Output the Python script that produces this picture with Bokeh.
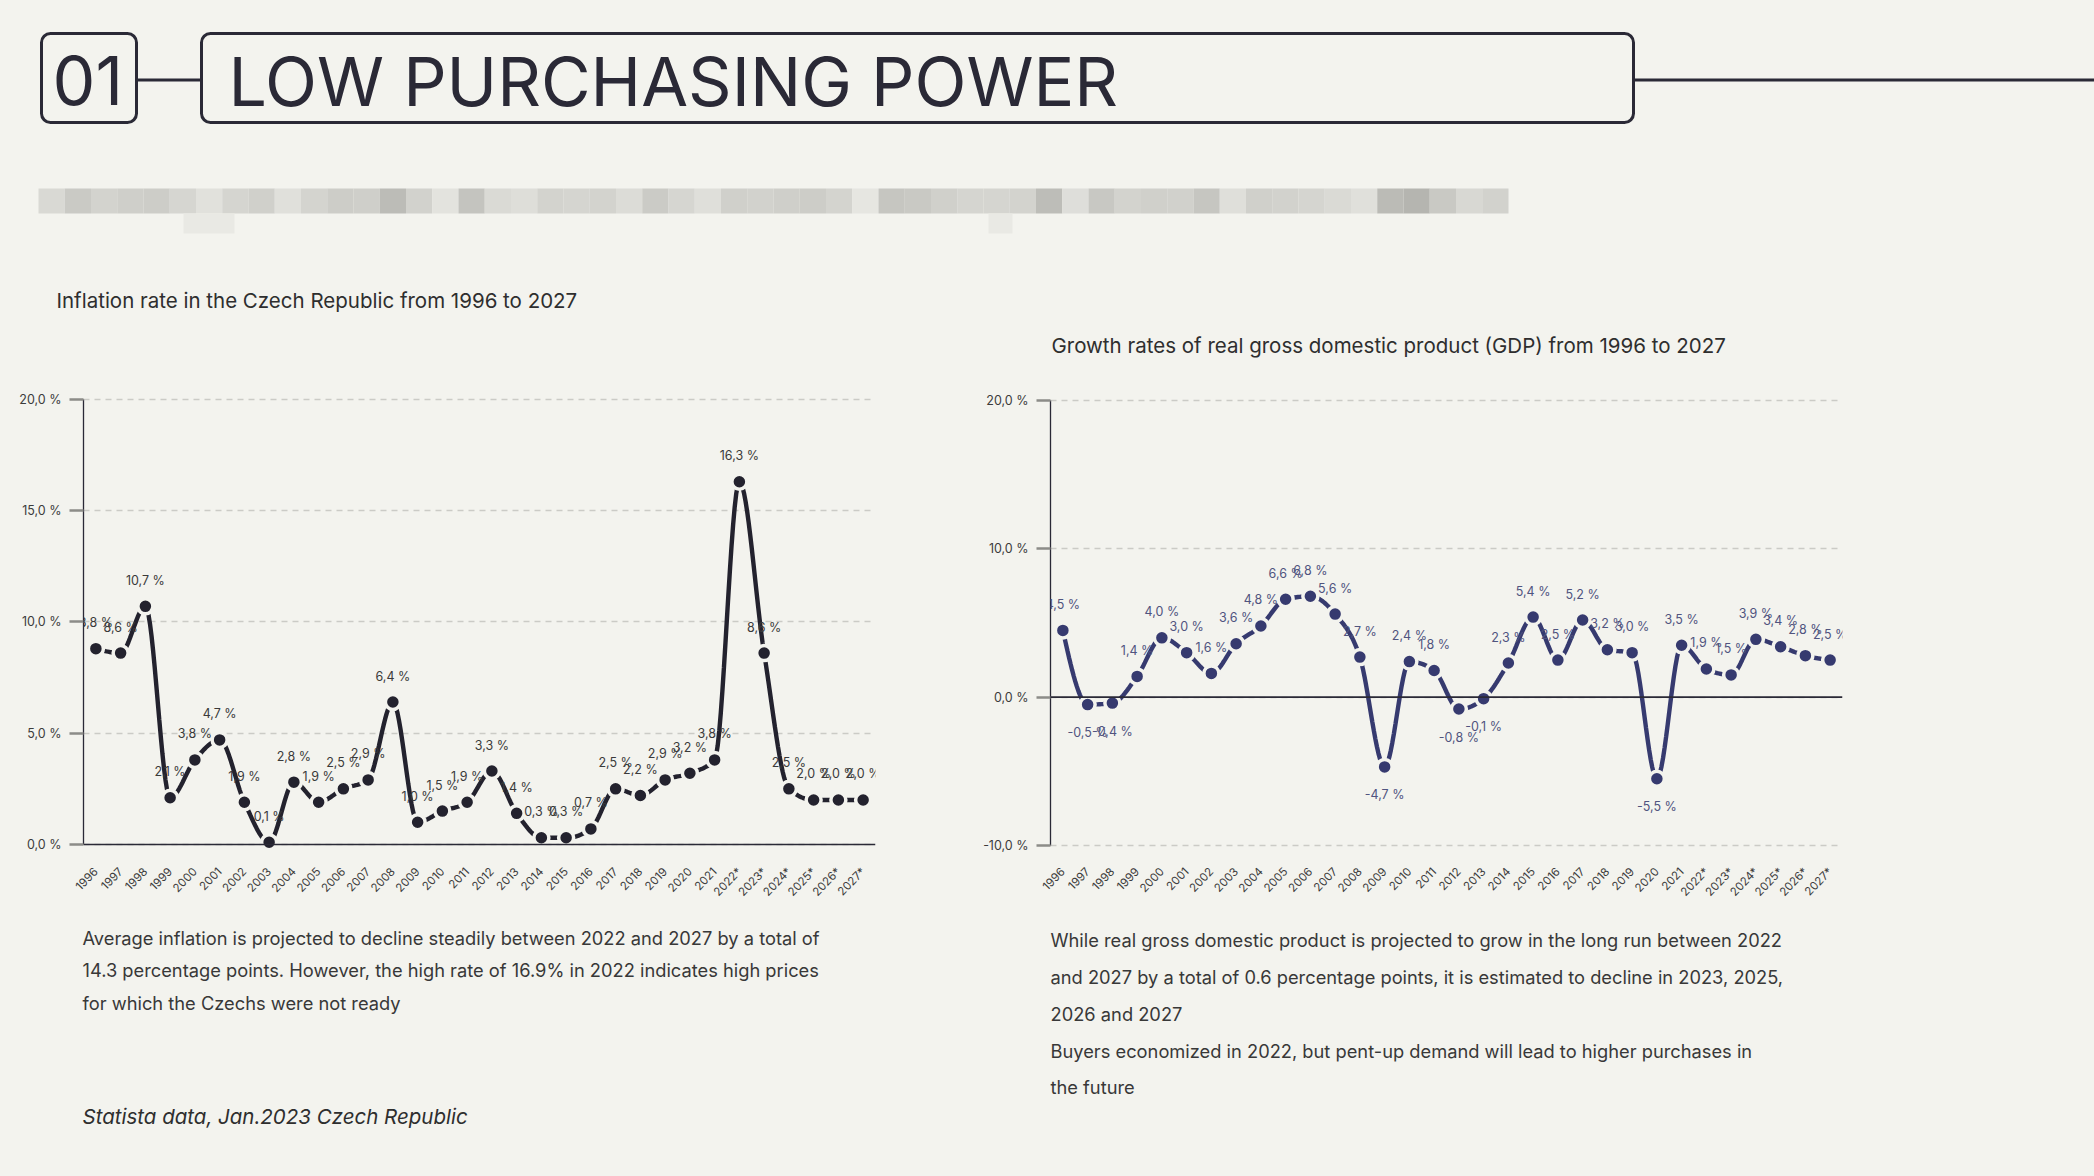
import numpy as np
from bokeh.plotting import figure
from bokeh.layouts import column, row
from bokeh.models import (Range1d, FixedTicker, Span, BoxAnnotation, ColumnDataSource,
                          CustomJSTickFormatter, LabelSet)
from bokeh.core.properties import value
from bokeh.embed import file_html
from bokeh.resources import INLINE

# ---------------- data ----------------
years = ["1996", "1997", "1998", "1999", "2000", "2001", "2002", "2003", "2004", "2005",
         "2006", "2007", "2008", "2009", "2010", "2011", "2012", "2013", "2014", "2015",
         "2016", "2017", "2018", "2019", "2020", "2021", "2022*", "2023*", "2024*", "2025*",
         "2026*", "2027*"]
inflation = [8.8, 8.6, 10.7, 2.1, 3.8, 4.7, 1.9, 0.1, 2.8, 1.9,
             2.5, 2.9, 6.4, 1.0, 1.5, 1.9, 3.3, 1.4, 0.3, 0.3,
             0.7, 2.5, 2.2, 2.9, 3.2, 3.8, 16.3, 8.6, 2.5, 2.0,
             2.0, 2.0]
gdp = [4.5, -0.5, -0.4, 1.4, 4.0, 3.0, 1.6, 3.6, 4.8, 6.6,
       6.8, 5.6, 2.7, -4.7, 2.4, 1.8, -0.8, -0.1, 2.3, 5.4,
       2.5, 5.2, 3.2, 3.0, -5.5, 3.5, 1.9, 1.5, 3.9, 3.4,
       2.8, 2.5]
infl_yticks = [0, 5, 10, 15, 20]
gdp_yticks = [-10, 0, 10, 20]

header_number = "01"
header_title = "LOW PURCHASING POWER"
infl_title = "Inflation rate in the Czech Republic from 1996 to 2027"
gdp_title = "Growth rates of real gross domestic product (GDP) from 1996 to 2027"
infl_text = ["Average inflation is projected to decline steadily between 2022 and 2027 by a total of",
             "14.3 percentage points. However, the high rate of 16.9% in 2022 indicates high prices",
             "for which the Czechs were not ready"]
gdp_text = ["While real gross domestic product is projected to grow in the long run between 2022",
            "and 2027 by a total of 0.6 percentage points, it is estimated to decline in 2023, 2025,",
            "2026 and 2027",
            "Buyers economized in 2022, but pent-up demand will lead to higher purchases in",
            "the future"]
source_text = "Statista data, Jan.2023 Czech Republic"

# blurred (redacted) subtitle block shades
blur_shades = ["#d9d9d4", "#cacac5", "#d3d3ce", "#cfcfca", "#cdcdc8", "#d6d6d1", "#e1e1dc", "#d5d5d0",
               "#d0d0cb", "#e0e0db", "#d4d4cf", "#cdcdc8", "#cfcfca", "#bcbcb7", "#d2d2cd", "#e3e3de",
               "#c4c4bf", "#dadad5", "#deded9", "#d3d3ce", "#d5d5d0", "#d3d3ce", "#dcdcd7", "#cbcbc6",
               "#d6d6d1", "#dfdfda", "#d0d0cb", "#d2d2cd", "#cfcfca", "#cdcdc8", "#d4d4cf", "#e6e6e1",
               "#c6c6c1", "#c9c9c4", "#d0d0cb", "#d5d5d0", "#d5d5d0", "#d3d3ce", "#bdbdb8", "#dededa",
               "#c8c8c3", "#d3d3ce", "#d0d0cb", "#d1d1cc", "#c6c6c1", "#dfdfda", "#d0d0cb", "#d2d2cd",
               "#d5d5d0", "#dadad5", "#e0e0db", "#bbbbb6", "#b5b5b0", "#c9c9c4", "#d8d8d3", "#d2d2cd"]

# ---------------- style ----------------
BG = "#f3f3ee"
DARK = "#2a2936"
INFL_COLOR = "#23222e"
GDP_COLOR = "#363a6f"
TEXT = "#383838"
FONT = "Inter"
W = 2094
LW = 960          # width of the left column
RW = W - LW       # width of the right column


def canvas(w, h):
    p = figure(width=w, height=h, x_range=Range1d(0, w), y_range=Range1d(h, 0),
               x_axis_type=None, y_axis_type=None,
               min_border=0, toolbar_location=None, output_backend="svg")
    p.grid.visible = False
    p.outline_line_color = None
    p.background_fill_color = BG
    p.border_fill_color = BG
    return p


def write(p, xs, ys, texts, size, color=TEXT, style="normal"):
    p.text(x=xs, y=ys, text=texts, text_font=value(FONT), text_font_size=size,
           text_font_style=style, text_color=color, text_baseline="middle", text_align="left")


def monotone(xv, yv, n=16):
    """Monotone cubic (d3.curveMonotoneX style) path through the points."""
    x = np.asarray(xv, float)
    y = np.asarray(yv, float)
    h = np.diff(x)
    s = np.diff(y) / h
    m = np.zeros_like(y)
    for i in range(1, len(y) - 1):
        p = (s[i - 1] * h[i] + s[i] * h[i - 1]) / (h[i - 1] + h[i])
        m[i] = (np.sign(s[i - 1]) + np.sign(s[i])) * min(abs(s[i - 1]), abs(s[i]), 0.5 * abs(p))
    m[0] = (3 * s[0] - m[1]) / 2
    m[-1] = (3 * s[-1] - m[-2]) / 2
    t = np.linspace(0, 1, n, endpoint=False)
    h00 = 2 * t ** 3 - 3 * t ** 2 + 1
    h10 = t ** 3 - 2 * t ** 2 + t
    h01 = -2 * t ** 3 + 3 * t ** 2
    h11 = t ** 3 - t ** 2
    ox, oy = [], []
    for i in range(len(y) - 1):
        ox.extend(x[i] + t * h[i])
        oy.extend(h00 * y[i] + h10 * h[i] * m[i] + h01 * y[i + 1] + h11 * h[i] * m[i + 1])
    ox.append(x[-1])
    oy.append(y[-1])
    return ox, oy


def fmt(v):
    return f"{v:.1f}".replace(".", ",") + " %"


def chart(w, vals, yr, ticks, color, lblcolor, bl):
    # figure spans page y 370..910, frame spans page y 390..862
    p = figure(width=w, height=540, x_range=Range1d(-0.5, len(vals) - 0.5),
               y_range=Range1d(*yr),
               min_border_left=bl, min_border_right=w - bl - 792, min_border_top=20,
               min_border_bottom=48, toolbar_location=None, output_backend="svg")
    p.outline_line_color = None
    p.background_fill_color = BG
    p.border_fill_color = BG
    p.xgrid.visible = False
    p.ygrid.ticker = FixedTicker(ticks=ticks)
    p.ygrid.grid_line_color = "#cbcbc6"
    p.ygrid.grid_line_dash = "6 5"
    p.ygrid.grid_line_width = 1.6

    ya = p.yaxis[0]
    ya.ticker = FixedTicker(ticks=ticks)
    ya.formatter = CustomJSTickFormatter(code="return tick.toFixed(1).replace('.', ',') + ' %'")
    ya.bounds = (ticks[0], ticks[-1])
    ya.axis_line_color = DARK
    ya.axis_line_width = 1.3
    ya.major_tick_out = 14
    ya.major_tick_in = 0
    ya.major_tick_line_color = "#8c8c88"
    ya.major_tick_line_width = 2.5
    ya.minor_tick_line_color = None
    ya.major_label_text_font = FONT
    ya.major_label_text_font_size = "12.5px"
    ya.major_label_text_color = "#3c3c3c"
    ya.major_label_standoff = 8

    xa = p.xaxis[0]
    xa.ticker = FixedTicker(ticks=list(range(len(years))))
    xa.major_label_overrides = {i: y for i, y in enumerate(years)}
    xa.axis_line_color = None
    xa.major_tick_line_color = None
    xa.minor_tick_line_color = None
    xa.major_label_orientation = 0.8
    xa.major_label_text_font = FONT
    xa.major_label_text_font_size = "11.5px"
    xa.major_label_text_color = "#3c3c3c"
    xa.major_label_standoff = 1

    p.add_layout(Span(location=0, dimension="width", line_color=DARK, line_width=1.6))

    idx = list(range(len(vals)))
    src = ColumnDataSource(dict(x=idx, y=vals, lbl=[fmt(v) for v in vals],
                                off=[26 if v >= 0 else -28 for v in vals]))
    p.add_layout(LabelSet(x="x", y="y", text="lbl", source=src, y_offset="off",
                          text_align="center", text_baseline="middle", text_font=value(FONT),
                          text_font_size="12.5px", text_color=lblcolor, level="overlay"))
    sx, sy = monotone(idx, vals)
    p.line(sx, sy, line_color=color, line_width=4.4)
    p.scatter(x="x", y="y", source=src, size=15, fill_color=color, line_color=BG, line_width=3.5)
    return p


# ---------------- header (page y 0..250) ----------------
hdr = canvas(W, 250)
for l, r in ((41, 136), (201, 1633)):
    hdr.add_layout(BoxAnnotation(left=l, right=r, top=33, bottom=122, fill_color=None,
                                 line_color=DARK, line_alpha=1.0, line_width=3, border_radius=9))
hdr.segment(x0=[136, 1633], y0=[79.5, 79.5], x1=[201, W], y1=[79.5, 79.5],
            line_color=DARK, line_width=3)
write(hdr, [52, 228], [80, 80], [header_number, header_title], "68px", DARK)
n = len(blur_shades)
edges = np.linspace(38, 1508, n + 1)
hdr.quad(left=edges[:-1], right=edges[1:], top=188, bottom=213, fill_color=blur_shades,
         line_color=None)
hdr.quad(left=[183, 988], right=[234, 1012], top=[213, 213], bottom=[233, 233],
         fill_color="#e9e9e4", line_color=None)

# ---------------- titles (page y 250..370) ----------------
tl = canvas(LW, 120)
write(tl, [56], [50], [infl_title], "20.5px", "#2e2e2e")
tr = canvas(RW, 120)
write(tr, [91], [95], [gdp_title], "20.5px", "#2e2e2e")

# ---------------- charts (page y 370..910) ----------------
cl = chart(LW, inflation, (-0.81, 20.4), infl_yticks, INFL_COLOR, "#3a3a3a", 83)
cr = chart(RW, gdp, (-11.146, 20.674), gdp_yticks, GDP_COLOR, "#50547f", 90)

# ---------------- paragraphs (page y 910..1176) ----------------
bl_ = canvas(LW, 266)
write(bl_, [82] * len(infl_text), [27, 59, 92], infl_text, "18.3px")
write(bl_, [82], [206], [source_text], "20.5px", "#2e2e2e", "italic")
br_ = canvas(RW, 266)
write(br_, [90] * len(gdp_text), [29, 66, 103, 140, 176], gdp_text, "18.3px")

layout = column(hdr, row(tl, tr, spacing=0), row(cl, cr, spacing=0), row(bl_, br_, spacing=0),
                spacing=0)
layout.styles = {"background-color": BG}

open("out.html", "w").write(file_html(layout, INLINE))
